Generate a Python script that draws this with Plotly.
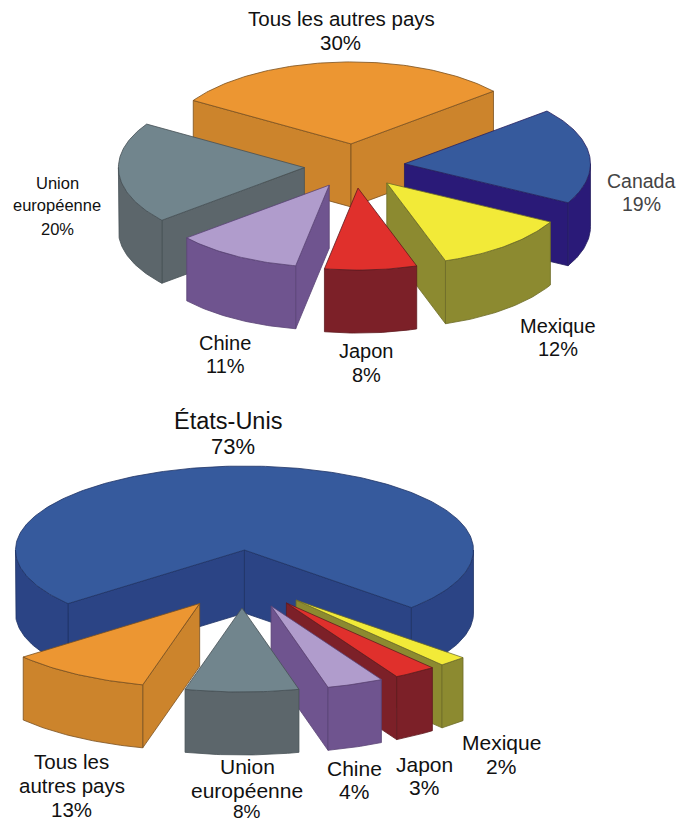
import numpy as np
import plotly.graph_objects as go

# ---- data ----
top_names = ["Canada", "Mexique", "Japon", "Chine", "Union européenne", "Tous les autres pays"]
top_values = [19, 12, 8, 11, 20, 30]
bottom_names = ["Mexique", "Japon", "Chine", "Union européenne", "Tous les autres pays", "États-Unis"]
bottom_values = [2, 3, 4, 8, 13, 73]

# ---- colours: top face, side face, outline ----
palette = {
    "Canada": ("#365a9d", "#2a1a78", "#26205f"),
    "États-Unis": ("#365a9d", "#2b4485", "#1f3466"),
    "Mexique": ("#f2ea38", "#8c8a30", "#6d6c28"),
    "Japon": ("#e0302c", "#7c2028", "#5f1a20"),
    "Chine": ("#b09ccc", "#6f548f", "#5a4476"),
    "Union européenne": ("#71858d", "#5c666b", "#465055"),
    "Tous les autres pays": ("#ec9632", "#cc842c", "#7a5020"),
}

fig = go.Figure()


def poly(xs, ys, fill, line):
    fig.add_trace(go.Scatter(
        x=xs, y=ys, mode="lines", fill="toself", fillcolor=fill,
        line=dict(color=line, width=0.8), hoverinfo="skip", showlegend=False))


def draw_pie(names, values, start, cx, cy, rx, ry, depth, explode, close_last=False):
    sweeps = [v * 3.6 for v in values]
    if close_last:  # the drawing's "others" slice simply closes the circle
        i = len(values) - 2
        sweeps[i] = 360 - sum(sweeps) + sweeps[i]
    slices = []
    a = start
    for name, sw in zip(names, sweeps):
        m = np.radians(a + sw / 2)
        ax = cx + explode * rx * np.sin(m)
        ay = cy - explode * ry * np.cos(m)
        slices.append((ay, ax, a, a + sw, name))
        a += sw
    for ay, ax, s, e, name in sorted(slices, key=lambda t: t[0]):
        top, side, edge = palette[name]

        def arc(t0, t1):
            t = np.radians(np.linspace(t0, t1, max(int(abs(t1 - t0)) + 2, 6)))
            return ax + rx * np.sin(t), ay - ry * np.cos(t)

        for ang, visible in ((s, np.sin(np.radians(s)) < 0), (e, np.sin(np.radians(e)) > 0)):
            if visible:
                ex, ey = arc(ang, ang)
                ex, ey = ex[0], ey[0]
                poly([ax, ex, ex, ax, ax], [ay, ey, ey + depth, ay + depth, ay], side, edge)
        for k in (-1, 0, 1):
            lo = max(s, 90 + 360 * k)
            hi = min(e, 270 + 360 * k)
            if hi > lo:
                x, y = arc(lo, hi)
                poly(np.r_[x, x[::-1], x[0]], np.r_[y, y[::-1] + depth, y[0]], side, edge)
        x, y = arc(s, e)
        poly(np.r_[ax, x, ax], np.r_[ay, y, ay], top, edge)


draw_pie(top_names, top_values, 50, 354.5, 166, 186, 82, 63, 0.27)
draw_pie(bottom_names, bottom_values, 133.2, 242, 579, 229, 84, 63, 0.345, close_last=True)

# ---- labels: text, centre x, centre y, font size, colour (one entry per line) ----
labels = [
    ("Tous les autres pays", 341, 18, 20.5, "#111111"), ("30%", 340, 42, 20.5, "#111111"),
    ("Union", 57, 183, 16.5, "#111111"), ("européenne", 57, 205, 16.5, "#111111"),
    ("20%", 57, 229, 16.5, "#111111"),
    ("Canada", 641, 181, 19.5, "#444444"), ("19%", 641, 204, 19.5, "#444444"),
    ("Mexique", 558, 326, 20, "#111111"), ("12%", 558, 349, 20, "#111111"),
    ("Chine", 225, 343, 20, "#111111"), ("11%", 225, 366, 20, "#111111"),
    ("Japon", 366, 351, 20, "#111111"), ("8%", 366, 375, 20, "#111111"),
    ("États-Unis", 228, 421, 23.5, "#111111"), ("73%", 233, 446, 22, "#111111"),
    ("Tous les", 71, 761, 20.5, "#111111"), ("autres pays", 72, 785, 20.5, "#111111"),
    ("13%", 71, 809, 20.5, "#111111"),
    ("Union", 247, 766, 21, "#111111"), ("européenne", 247, 790, 21, "#111111"),
    ("8%", 247, 811.5, 19, "#111111"),
    ("Chine", 354, 768, 21, "#111111"), ("4%", 354, 791, 21, "#111111"),
    ("Japon", 424, 764, 21, "#111111"), ("3%", 424, 787, 21, "#111111"),
    ("Mexique", 501, 742, 21, "#111111"), ("2%", 501, 766, 21, "#111111"),
]
annotations = [
    dict(text=t, x=x, y=y, xref="x", yref="y", showarrow=False, align="center",
         xanchor="center", yanchor="middle",
         font=dict(size=s, color=c, family="Liberation Sans"))
    for t, x, y, s, c in labels
]

fig.update_layout(
    width=676, height=824, margin=dict(l=0, r=0, t=0, b=0),
    paper_bgcolor="white", plot_bgcolor="white", showlegend=False,
    xaxis=dict(range=[0, 676], visible=False, fixedrange=True),
    yaxis=dict(range=[824, 0], visible=False, fixedrange=True),
    annotations=annotations,
)
fig.write_html("out.html", config={"displayModeBar": False},
               post_script="document.body.style.margin='0';document.body.style.overflow='hidden';")
